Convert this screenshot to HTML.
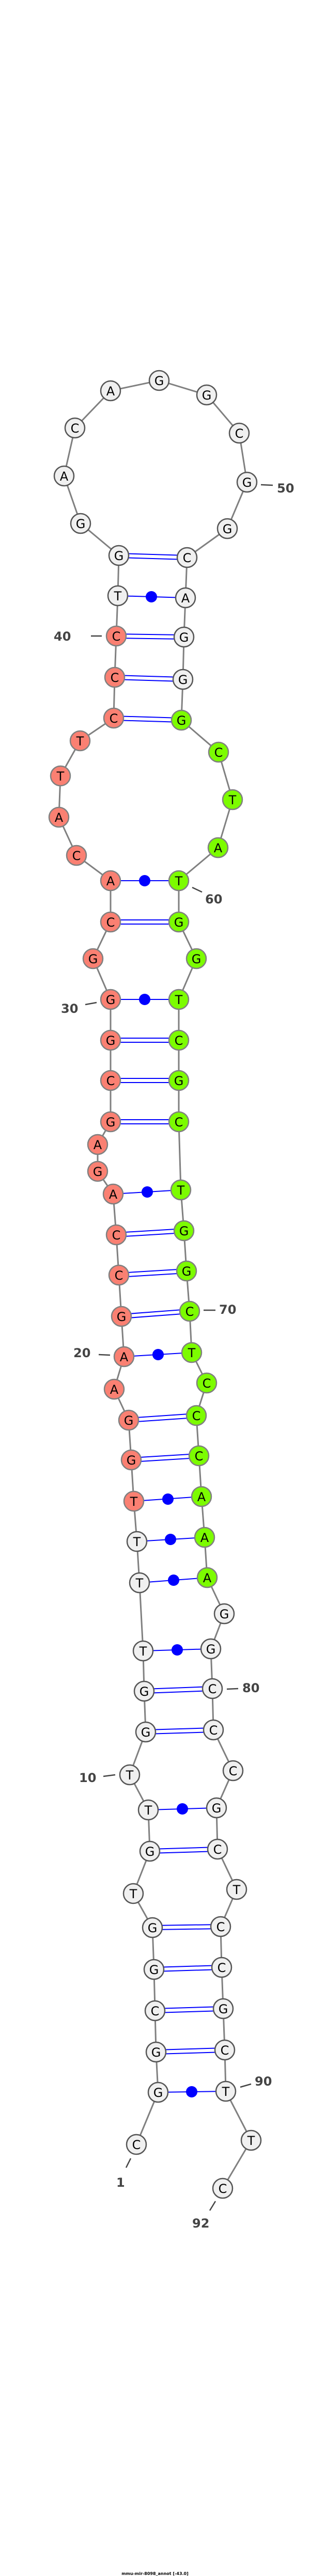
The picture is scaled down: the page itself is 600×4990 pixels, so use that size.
<!DOCTYPE html>
<html><head><meta charset="utf-8"><style>html,body{margin:0;padding:0;background:#fff}svg{display:block}
.n text{font-family:"DejaVu Sans","Liberation Sans",sans-serif;font-size:24px;text-anchor:middle}
.w circle{fill:#f0f0f0;stroke:#555;stroke-width:2.5}
.s circle{fill:#fa8072;stroke:#808080;stroke-width:2.5}
.g circle{fill:#7cfc00;stroke:#808080;stroke-width:2.5}
.lb{font-family:"DejaVu Sans","Liberation Sans",sans-serif;font-size:24px;font-weight:bold;fill:#444}
</style></head><body>
<svg width="600" height="4990" viewBox="0 0 600 4990" xmlns="http://www.w3.org/2000/svg">
<polyline fill="none" stroke="#808080" stroke-width="3" points="264,4154 306,4053 302,3975 300,3895 298,3815 295,3734 258,3668 290,3586 287,3506 251,3438 282,3355 279,3276 277,3198 270,3066 265,2986 259,2908 254,2828 249,2751 221,2691 240,2628 235,2550 230,2470 225,2392 219,2313 189,2269 189,2217 214,2173 214,2093 214,2015 214,1936 180,1857 214,1786 214,1706 148,1657 114,1583 117,1503 155,1435 220,1391 222,1312 225,1232 228,1154 230,1076 156,1014 124,922 145,829 214,757 308,737 400,765 463,839 478,934 440,1024 362,1080 359,1158 356,1234 354,1316 351,1395 423,1457 450,1549 422,1642 346,1706 346,1786 380,1857 346,1936 346,2015 346,2093 346,2173 350,2305 356,2384 361,2462 367,2540 371,2620 400,2679 380,2742 385,2820 390,2899 396,2978 401,3056 434,3126 408,3194 411,3271 413,3351 451,3430 419,3502 421,3582 458,3660 427,3732 429,3811 432,3891 435,3971 437,4051 486,4146 431,4239"/>
<g stroke="#0000ff" stroke-width="2">
<!-- double pairs -->
<line x1="302" y1="3971" x2="435" y2="3967"/><line x1="302" y1="3979" x2="435" y2="3975"/>
<line x1="300" y1="3891" x2="432" y2="3887"/><line x1="300" y1="3899" x2="432" y2="3895"/>
<line x1="298" y1="3811" x2="429" y2="3807"/><line x1="298" y1="3819" x2="429" y2="3815"/>
<line x1="295" y1="3730" x2="427" y2="3728"/><line x1="295" y1="3738" x2="427" y2="3736"/>
<line x1="290" y1="3582" x2="421" y2="3578"/><line x1="290" y1="3590" x2="421" y2="3586"/>
<line x1="282" y1="3351" x2="413" y2="3347"/><line x1="282" y1="3359" x2="413" y2="3355"/>
<line x1="279" y1="3272" x2="411" y2="3267"/><line x1="279" y1="3280" x2="411" y2="3275"/>
<line x1="254" y1="2824" x2="385" y2="2816"/><line x1="254" y1="2832" x2="385" y2="2824"/>
<line x1="249" y1="2747" x2="380" y2="2738"/><line x1="249" y1="2755" x2="380" y2="2746"/>
<line x1="235" y1="2546" x2="367" y2="2536"/><line x1="235" y1="2554" x2="367" y2="2544"/>
<line x1="230" y1="2466" x2="361" y2="2458"/><line x1="230" y1="2474" x2="361" y2="2466"/>
<line x1="225" y1="2388" x2="356" y2="2380"/><line x1="225" y1="2396" x2="356" y2="2388"/>
<line x1="214" y1="2169" x2="346" y2="2169"/><line x1="214" y1="2177" x2="346" y2="2177"/>
<line x1="214" y1="2089" x2="346" y2="2089"/><line x1="214" y1="2097" x2="346" y2="2097"/>
<line x1="214" y1="2011" x2="346" y2="2011"/><line x1="214" y1="2019" x2="346" y2="2019"/>
<line x1="214" y1="1782" x2="346" y2="1782"/><line x1="214" y1="1790" x2="346" y2="1790"/>
<line x1="220" y1="1387" x2="351" y2="1391"/><line x1="220" y1="1395" x2="351" y2="1399"/>
<line x1="222" y1="1308" x2="354" y2="1312"/><line x1="222" y1="1316" x2="354" y2="1320"/>
<line x1="225" y1="1228" x2="356" y2="1230"/><line x1="225" y1="1236" x2="356" y2="1238"/>
<line x1="230" y1="1072" x2="362" y2="1076"/><line x1="230" y1="1080" x2="362" y2="1084"/>
<!-- single pairs -->
<line x1="306" y1="4053" x2="437" y2="4051"/>
<line x1="287" y1="3506" x2="419" y2="3502"/>
<line x1="277" y1="3198" x2="408" y2="3194"/>
<line x1="270" y1="3066" x2="401" y2="3056"/>
<line x1="265" y1="2986" x2="396" y2="2978"/>
<line x1="259" y1="2908" x2="390" y2="2899"/>
<line x1="240" y1="2628" x2="371" y2="2620"/>
<line x1="219" y1="2313" x2="350" y2="2305"/>
<line x1="214" y1="1936" x2="346" y2="1936"/>
<line x1="214" y1="1706" x2="346" y2="1706"/>
<line x1="228" y1="1154" x2="359" y2="1158"/>
</g>
<g fill="#0000ff">
<circle cx="371" cy="4052" r="11"/><circle cx="353" cy="3504" r="11"/><circle cx="343" cy="3196" r="11"/>
<circle cx="336" cy="3061" r="11"/><circle cx="330" cy="2982" r="11"/><circle cx="325" cy="2904" r="11"/>
<circle cx="306" cy="2624" r="11"/><circle cx="285" cy="2309" r="11"/><circle cx="280" cy="1936" r="11"/>
<circle cx="280" cy="1706" r="11"/><circle cx="293" cy="1156" r="11"/>
</g>
<g class="n w">
<circle cx="264" cy="4154" r="19"/><text x="264" y="4163">C</text>
<circle cx="306" cy="4053" r="19"/><text x="306" y="4062">G</text>
<circle cx="302" cy="3975" r="19"/><text x="302" y="3984">G</text>
<circle cx="300" cy="3895" r="19"/><text x="300" y="3904">C</text>
<circle cx="298" cy="3815" r="19"/><text x="298" y="3824">G</text>
<circle cx="295" cy="3734" r="19"/><text x="295" y="3743">G</text>
<circle cx="258" cy="3668" r="19"/><text x="258" y="3677">T</text>
<circle cx="290" cy="3586" r="19"/><text x="290" y="3595">G</text>
<circle cx="287" cy="3506" r="19"/><text x="287" y="3515">T</text>
<circle cx="251" cy="3438" r="19"/><text x="251" y="3447">T</text>
<circle cx="282" cy="3355" r="19"/><text x="282" y="3364">G</text>
<circle cx="279" cy="3276" r="19"/><text x="279" y="3285">G</text>
<circle cx="277" cy="3198" r="19"/><text x="277" y="3207">T</text>
<circle cx="270" cy="3066" r="19"/><text x="270" y="3075">T</text>
<circle cx="265" cy="2986" r="19"/><text x="265" y="2995">T</text>
<circle cx="228" cy="1154" r="19"/><text x="228" y="1163">T</text>
<circle cx="230" cy="1076" r="19"/><text x="230" y="1085">G</text>
<circle cx="156" cy="1014" r="19"/><text x="156" y="1023">G</text>
<circle cx="124" cy="922" r="19"/><text x="124" y="931">A</text>
<circle cx="145" cy="829" r="19"/><text x="145" y="838">C</text>
<circle cx="214" cy="757" r="19"/><text x="214" y="766">A</text>
<circle cx="308" cy="737" r="19"/><text x="308" y="746">G</text>
<circle cx="400" cy="765" r="19"/><text x="400" y="774">G</text>
<circle cx="463" cy="839" r="19"/><text x="463" y="848">C</text>
<circle cx="478" cy="934" r="19"/><text x="478" y="943">G</text>
<circle cx="440" cy="1024" r="19"/><text x="440" y="1033">G</text>
<circle cx="362" cy="1080" r="19"/><text x="362" y="1089">C</text>
<circle cx="359" cy="1158" r="19"/><text x="359" y="1167">A</text>
<circle cx="356" cy="1234" r="19"/><text x="356" y="1243">G</text>
<circle cx="354" cy="1316" r="19"/><text x="354" y="1325">G</text>
<circle cx="434" cy="3126" r="19"/><text x="434" y="3135">G</text>
<circle cx="408" cy="3194" r="19"/><text x="408" y="3203">G</text>
<circle cx="411" cy="3271" r="19"/><text x="411" y="3280">C</text>
<circle cx="413" cy="3351" r="19"/><text x="413" y="3360">C</text>
<circle cx="451" cy="3430" r="19"/><text x="451" y="3439">C</text>
<circle cx="419" cy="3502" r="19"/><text x="419" y="3511">G</text>
<circle cx="421" cy="3582" r="19"/><text x="421" y="3591">C</text>
<circle cx="458" cy="3660" r="19"/><text x="458" y="3669">T</text>
<circle cx="427" cy="3732" r="19"/><text x="427" y="3741">C</text>
<circle cx="429" cy="3811" r="19"/><text x="429" y="3820">C</text>
<circle cx="432" cy="3891" r="19"/><text x="432" y="3900">G</text>
<circle cx="435" cy="3971" r="19"/><text x="435" y="3980">C</text>
<circle cx="437" cy="4051" r="19"/><text x="437" y="4060">T</text>
<circle cx="486" cy="4146" r="19"/><text x="486" y="4155">T</text>
<circle cx="431" cy="4239" r="19"/><text x="431" y="4248">C</text>
</g>
<g class="n s">
<circle cx="259" cy="2908" r="19"/><text x="259" y="2917">T</text>
<circle cx="254" cy="2828" r="19"/><text x="254" y="2837">G</text>
<circle cx="249" cy="2751" r="19"/><text x="249" y="2760">G</text>
<circle cx="221" cy="2691" r="19"/><text x="221" y="2700">A</text>
<circle cx="240" cy="2628" r="19"/><text x="240" y="2637">A</text>
<circle cx="235" cy="2550" r="19"/><text x="235" y="2559">G</text>
<circle cx="230" cy="2470" r="19"/><text x="230" y="2479">C</text>
<circle cx="225" cy="2392" r="19"/><text x="225" y="2401">C</text>
<circle cx="219" cy="2313" r="19"/><text x="219" y="2322">A</text>
<circle cx="189" cy="2269" r="19"/><text x="189" y="2278">G</text>
<circle cx="189" cy="2217" r="19"/><text x="189" y="2226">A</text>
<circle cx="214" cy="2173" r="19"/><text x="214" y="2182">G</text>
<circle cx="214" cy="2093" r="19"/><text x="214" y="2102">C</text>
<circle cx="214" cy="2015" r="19"/><text x="214" y="2024">G</text>
<circle cx="214" cy="1936" r="19"/><text x="214" y="1945">G</text>
<circle cx="180" cy="1857" r="19"/><text x="180" y="1866">G</text>
<circle cx="214" cy="1786" r="19"/><text x="214" y="1795">C</text>
<circle cx="214" cy="1706" r="19"/><text x="214" y="1715">A</text>
<circle cx="148" cy="1657" r="19"/><text x="148" y="1666">C</text>
<circle cx="114" cy="1583" r="19"/><text x="114" y="1592">A</text>
<circle cx="117" cy="1503" r="19"/><text x="117" y="1512">T</text>
<circle cx="155" cy="1435" r="19"/><text x="155" y="1444">T</text>
<circle cx="220" cy="1391" r="19"/><text x="220" y="1400">C</text>
<circle cx="222" cy="1312" r="19"/><text x="222" y="1321">C</text>
<circle cx="225" cy="1232" r="19"/><text x="225" y="1241">C</text>
</g>
<g class="n g">
<circle cx="351" cy="1395" r="19"/><text x="351" y="1404">G</text>
<circle cx="423" cy="1457" r="19"/><text x="423" y="1466">C</text>
<circle cx="450" cy="1549" r="19"/><text x="450" y="1558">T</text>
<circle cx="422" cy="1642" r="19"/><text x="422" y="1651">A</text>
<circle cx="346" cy="1706" r="19"/><text x="346" y="1715">T</text>
<circle cx="346" cy="1786" r="19"/><text x="346" y="1795">G</text>
<circle cx="380" cy="1857" r="19"/><text x="380" y="1866">G</text>
<circle cx="346" cy="1936" r="19"/><text x="346" y="1945">T</text>
<circle cx="346" cy="2015" r="19"/><text x="346" y="2024">C</text>
<circle cx="346" cy="2093" r="19"/><text x="346" y="2102">G</text>
<circle cx="346" cy="2173" r="19"/><text x="346" y="2182">C</text>
<circle cx="350" cy="2305" r="19"/><text x="350" y="2314">T</text>
<circle cx="356" cy="2384" r="19"/><text x="356" y="2393">G</text>
<circle cx="361" cy="2462" r="19"/><text x="361" y="2471">G</text>
<circle cx="367" cy="2540" r="19"/><text x="367" y="2549">C</text>
<circle cx="371" cy="2620" r="19"/><text x="371" y="2629">T</text>
<circle cx="400" cy="2679" r="19"/><text x="400" y="2688">C</text>
<circle cx="380" cy="2742" r="19"/><text x="380" y="2751">C</text>
<circle cx="385" cy="2820" r="19"/><text x="385" y="2829">C</text>
<circle cx="390" cy="2899" r="19"/><text x="390" y="2908">A</text>
<circle cx="396" cy="2978" r="19"/><text x="396" y="2987">A</text>
<circle cx="401" cy="3056" r="19"/><text x="401" y="3065">A</text>
</g>
<g stroke="#444" stroke-width="2.5">
<line x1="505" y1="939" x2="528" y2="940"/>
<line x1="176" y1="1232" x2="197" y2="1232"/>
<line x1="372" y1="1719" x2="391" y2="1728"/>
<line x1="165" y1="1946" x2="187" y2="1942"/>
<line x1="394" y1="2538" x2="417" y2="2538"/>
<line x1="191" y1="2624" x2="213" y2="2625"/>
<line x1="439" y1="3272" x2="461" y2="3271"/>
<line x1="200" y1="3441" x2="223" y2="3438"/>
<line x1="465" y1="4043" x2="486" y2="4037"/>
<line x1="244" y1="4199" x2="253" y2="4181"/>
<line x1="406" y1="4282" x2="417" y2="4264"/>
</g>
<g class="lb">
<text x="536" y="954">50</text>
<text x="104" y="1241">40</text>
<text x="397" y="1750">60</text>
<text x="118" y="1962">30</text>
<text x="424" y="2545">70</text>
<text x="142" y="2629">20</text>
<text x="469" y="3278">80</text>
<text x="153" y="3452">10</text>
<text x="493" y="4040">90</text>
<text x="225" y="4236">1</text>
<text x="372" y="4315">92</text>
</g>
<text x="300" y="4988" text-anchor="middle" style="font-family:'DejaVu Sans','Liberation Sans',sans-serif;font-size:8px;font-weight:bold">mmu-mir-8098_annot [-43.0]</text>
</svg>
</body></html>
